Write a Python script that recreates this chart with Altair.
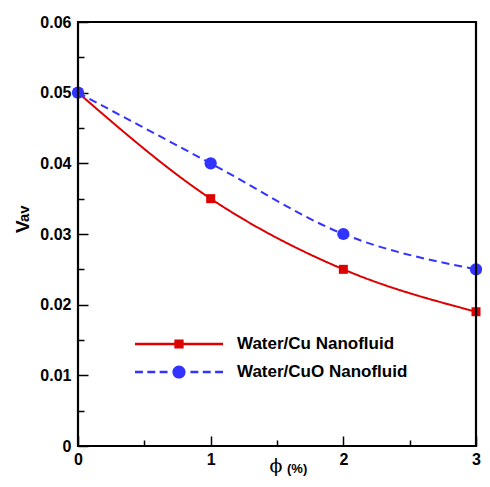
import altair as alt
import pandas as pd

# ---- data ----
phi = [0, 1, 2, 3]
v_cu = [0.05, 0.035, 0.025, 0.019]
v_cuo = [0.05, 0.04, 0.03, 0.025]
series_names = ["Water/Cu Nanofluid", "Water/CuO Nanofluid"]
series_colors = ["#dd0000", "#3333ff"]
series_dash = [[1, 0], [8, 5]]
x_domain = [0, 3]
y_domain = [0, 0.06]
x_major = [0, 1, 2, 3]
x_minor = [0.5, 1.5, 2.5]
y_major = [0, 0.01, 0.02, 0.03, 0.04, 0.05, 0.06]
y_minor = [0.005, 0.015, 0.025, 0.035, 0.045, 0.055]
y_title_main = ["V"]
y_title_sub = ["av"]
x_title_main = ["\u03d5"]
x_title_sub = ["(%)"]

df = pd.DataFrame({
    "phi": phi + phi,
    "v": v_cu + v_cuo,
    "series": [series_names[0]] * len(phi) + [series_names[1]] * len(phi),
})
# plot-area border: closed outline through the corners of the axis domains
frame_df = pd.DataFrame({
    "fx": [x_domain[0], x_domain[0], x_domain[1], x_domain[1], x_domain[0]],
    "fy": [y_domain[0], y_domain[1], y_domain[1], y_domain[0], y_domain[0]],
    "i": [0, 1, 2, 3, 4],
})

# ---- legend symbols: line + marker drawn as custom filled paths (unit box -1..1) ----
def rect(a, b, h=0.03):
    return f"M{a},{-h}H{b}V{h}H{a}Z"

r_sq = 0.105
path_cu = rect(-1, 1) + f"M{-r_sq},{-r_sq}H{r_sq}V{r_sq}H{-r_sq}Z"
r_c = 0.15
dashes = [(-1, -0.82), (-0.72, -0.54), (-0.44, -0.26), (0.26, 0.44), (0.54, 0.72), (0.82, 1)]
path_cuo = "".join(rect(a, b) for a, b in dashes) + (
    f"M{-r_c},0A{r_c},{r_c} 0 1,1 {r_c},0A{r_c},{r_c} 0 1,1 {-r_c},0Z"
)

FONT = "Liberation Sans"
xs = alt.Scale(domain=x_domain, nice=False, zero=False)
ys = alt.Scale(domain=y_domain, nice=False, zero=False)
color_scale = alt.Scale(domain=series_names, range=series_colors)

x_axis_major = alt.Axis(orient="bottom", values=x_major, tickSize=10, offset=-10, domain=False,
                        grid=False, labelPadding=5, labelFont=FONT, labelFontSize=16,
                        labelFontWeight="bold", labelColor="black", tickColor="black",
                        tickWidth=1.5, title=None, labelFlush=False, labelOverlap=False,
                        format="d")
y_axis_major = alt.Axis(orient="left", values=y_major, tickSize=10, offset=-10, domain=False,
                        grid=False, labelPadding=7, labelFont=FONT, labelFontSize=16,
                        labelFontWeight="bold", labelColor="black", tickColor="black",
                        tickWidth=1.5, title=None, labelFlush=False, labelOverlap=False,
                        labelExpr="datum.value == 0 ? '0' : format(datum.value, '.2f')")
x_axis_minor = alt.Axis(orient="bottom", values=x_minor, tickSize=6, offset=-6, domain=False,
                        grid=False, labels=False, title=None, tickColor="black", tickWidth=1.5)
y_axis_minor = alt.Axis(orient="left", values=y_minor, tickSize=6, offset=-6, domain=False,
                        grid=False, labels=False, title=None, tickColor="black", tickWidth=1.5)

base = alt.Chart(df)

lines = base.mark_line(interpolate="monotone", strokeWidth=2).encode(
    x=alt.X("phi:Q", scale=xs, axis=x_axis_major),
    y=alt.Y("v:Q", scale=ys, axis=y_axis_major),
    color=alt.Color("series:N", scale=color_scale, legend=None),
    strokeDash=alt.StrokeDash("series:N",
                              scale=alt.Scale(domain=series_names, range=series_dash),
                              legend=None),
)

sq = base.transform_filter(alt.datum.series == series_names[0]).mark_square(
    size=81, opacity=1).encode(
    x=alt.X("phi:Q", scale=xs, axis=None),
    y=alt.Y("v:Q", scale=ys, axis=None),
    color=alt.Color("series:N", scale=color_scale, legend=None),
)
circ = base.transform_filter(alt.datum.series == series_names[1]).mark_circle(
    size=150, opacity=1).encode(
    x=alt.X("phi:Q", scale=xs, axis=None),
    y=alt.Y("v:Q", scale=ys, axis=None),
    color=alt.Color("series:N", scale=color_scale, legend=None),
)

leg = dict(orient="none", legendX=57, legendY=311, title=None, symbolSize=7744,
           symbolOpacity=1, symbolStrokeWidth=0, clipHeight=22, rowPadding=6,
           labelOffset=14, labelFont=FONT, labelFontSize=17, labelFontWeight="bold",
           labelColor="black", padding=0, labelLimit=300)
legend_layer = base.mark_point(filled=True, opacity=0).encode(
    x=alt.X("phi:Q", scale=xs, axis=None),
    y=alt.Y("v:Q", scale=ys, axis=None),
    color=alt.Color("series:N", scale=color_scale, legend=alt.Legend(**leg)),
    shape=alt.Shape("series:N", scale=alt.Scale(domain=series_names, range=[path_cu, path_cuo]),
                    legend=alt.Legend(**leg)),
)

minor = base.mark_point(opacity=0).encode(
    x=alt.X("phi:Q", scale=xs, axis=x_axis_minor),
    y=alt.Y("v:Q", scale=ys, axis=y_axis_minor),
)

frame = alt.Chart(frame_df).mark_line(color="black", strokeWidth=2.2, strokeCap="square",
                                       interpolate="linear").encode(
    x=alt.X("fx:Q", scale=xs, axis=None),
    y=alt.Y("fy:Q", scale=ys, axis=None),
    order=alt.Order("i:Q"),
)

t_v = alt.Chart(pd.DataFrame({"t": y_title_main})).mark_text(
    angle=270, align="left", baseline="alphabetic", font=FONT, fontSize=19,
    fontWeight="bold", color="black").encode(
    x=alt.value(-49), y=alt.value(211), text="t:N")
t_av = alt.Chart(pd.DataFrame({"t": y_title_sub})).mark_text(
    angle=270, align="left", baseline="alphabetic", font=FONT, fontSize=15,
    fontWeight="bold", color="black").encode(
    x=alt.value(-49), y=alt.value(200), text="t:N")
t_phi = alt.Chart(pd.DataFrame({"t": x_title_main})).mark_text(
    align="center", baseline="alphabetic", font="DejaVu Serif", fontSize=19,
    color="black").encode(
    x=alt.value(198), y=alt.value(450), text="t:N")
t_pct = alt.Chart(pd.DataFrame({"t": x_title_sub})).mark_text(
    align="left", baseline="alphabetic", font=FONT, fontSize=13, fontWeight="bold",
    color="black").encode(
    x=alt.value(209), y=alt.value(451), text="t:N")

chart = alt.layer(lines, sq, circ, legend_layer, minor, frame,
                  t_v, t_av, t_phi, t_pct).resolve_axis(
    x="independent", y="independent"
).resolve_legend(
    color="independent", shape="independent", strokeDash="independent"
).properties(
    width=398, height=424,
    background="white",
    autosize=alt.AutoSizeParams(type="none"),
    padding={"left": 70, "top": 14, "right": 6, "bottom": 32},
).configure_view(
    stroke=None
)

chart.save("out.html", embed_options={"renderer": "svg", "actions": False})
